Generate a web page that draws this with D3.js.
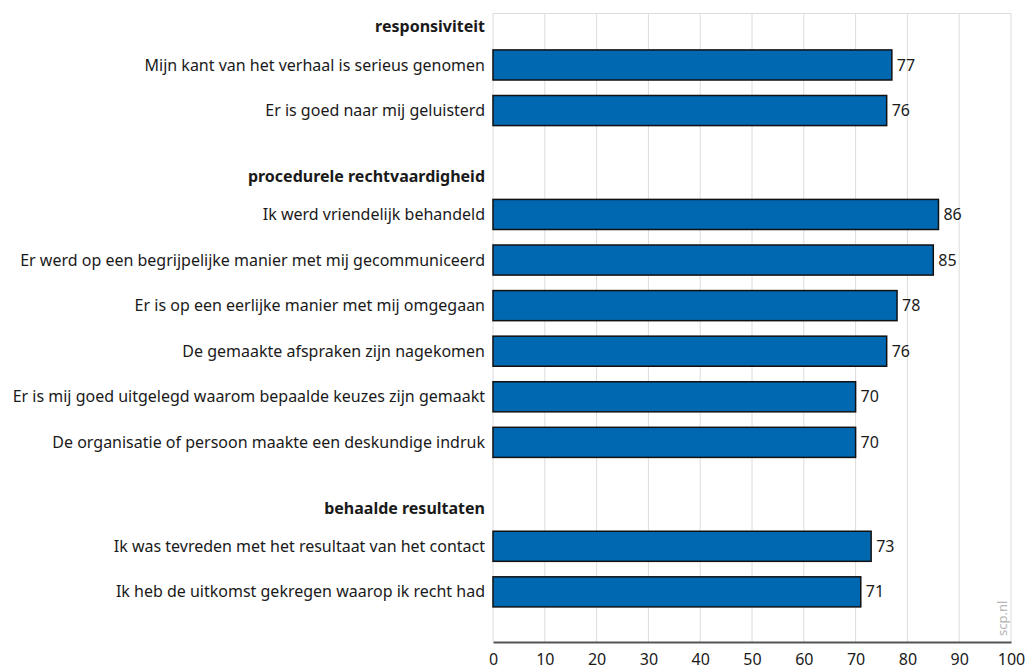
<!DOCTYPE html>
<html>
<head>
<meta charset="utf-8">
<script src="https://cdn.jsdelivr.net/npm/d3@7"></script>
<style>
  body { margin: 0; background: #fff; }
  text { font-family: "Noto Sans", "Open Sans", sans-serif; fill: #1a1a1a; }
</style>
</head>
<body>
<div id="chart"></div>
<script>
// data
var groups = ["responsiviteit", "procedurele rechtvaardigheid", "behaalde resultaten"]
var items = [
  "Mijn kant van het verhaal is serieus genomen",
  "Er is goed naar mij geluisterd",
  "Ik werd vriendelijk behandeld",
  "Er werd op een begrijpelijke manier met mij gecommuniceerd",
  "Er is op een eerlijke manier met mij omgegaan",
  "De gemaakte afspraken zijn nagekomen",
  "Er is mij goed uitgelegd waarom bepaalde keuzes zijn gemaakt",
  "De organisatie of persoon maakte een deskundige indruk",
  "Ik was tevreden met het resultaat van het contact",
  "Ik heb de uitkomst gekregen waarop ik recht had"
]
var itemGroup = [0, 0, 1, 1, 1, 1, 1, 1, 2, 2]
var values = [77, 76, 86, 85, 78, 76, 70, 70, 73, 71]
var xTicks = [0, 10, 20, 30, 40, 50, 60, 70, 80, 90, 100]

var W = 1025, H = 672
// note: "top" is taken by window.top, so plot edges get a prefix
var plotL = 493, plotR = 1011, plotT = 13, plotB = 642
var groupGap = 1.28   // extra rows between groups
var fs = '16px'

// slot index for every item, groups pushed apart
var slots = items.map(function(d, i) { return i + itemGroup[i] * groupGap })
var firstSlot = groups.map(function(g, gi) {
  return d3.min(slots.filter(function(s, i) { return itemGroup[i] === gi }))
})

var svg = d3.select('#chart').append('svg')
  .attr('width', W).attr('height', H)

var x = d3.scaleLinear().domain([0, 100]).range([plotL, plotR])
var y = d3.scaleLinear().domain([-1.14, d3.max(slots) + 1.1]).range([plotT, plotB])
var step = y(1) - y(0)
var barH = step * 0.66

// grid
svg.append('g').selectAll('line')
  .data(xTicks)
  .join('line')
  .attr('x1', function(d) { return x(d) }).attr('x2', function(d) { return x(d) })
  .attr('y1', plotT).attr('y2', plotB)
  .attr('stroke', '#dcdcdc').attr('stroke-width', 1)
svg.append('line')
  .attr('x1', plotL).attr('x2', plotR).attr('y1', plotT + 0.5).attr('y2', plotT + 0.5)
  .attr('stroke', '#dcdcdc')

// x axis
var xAxis = svg.append('g')
  .attr('transform', 'translate(0,' + plotB + ')')
  .call(d3.axisBottom(x).tickValues(xTicks).tickSize(0).tickPadding(12))
xAxis.select('.domain').attr('stroke', '#555').attr('stroke-width', 2)
xAxis.selectAll('text').style('font-size', fs)
  .style('font-family', '"Noto Sans", sans-serif').attr('fill', '#1a1a1a')

// bars
svg.append('g').selectAll('rect')
  .data(values)
  .join('rect')
  .attr('x', x(0))
  .attr('y', function(d, i) { return y(slots[i]) - barH / 2 })
  .attr('width', function(d) { return x(d) - x(0) })
  .attr('height', barH)
  .attr('fill', '#0067b1')
  .attr('stroke', '#111')
  .attr('stroke-width', 1.5)

// value labels
svg.append('g').selectAll('text')
  .data(values)
  .join('text')
  .attr('x', function(d) { return x(d) + 5 })
  .attr('y', function(d, i) { return y(slots[i]) })
  .attr('dy', '0.35em')
  .style('font-size', fs)
  .text(function(d) { return d })

// item labels
svg.append('g').selectAll('text')
  .data(items)
  .join('text')
  .attr('x', plotL - 8)
  .attr('y', function(d, i) { return y(slots[i]) })
  .attr('dy', '0.35em')
  .attr('text-anchor', 'end')
  .style('font-size', fs)
  .text(function(d) { return d })

// group headers
svg.append('g').selectAll('text')
  .data(groups)
  .join('text')
  .attr('x', plotL - 8)
  .attr('y', function(d, i) { return y(firstSlot[i] - 0.84) })
  .attr('dy', '0.35em')
  .attr('text-anchor', 'end')
  .style('font-size', fs)
  .style('font-weight', 'bold')
  .text(function(d) { return d })

// watermark
svg.append('text')
  .attr('transform', 'translate(' + (plotR - 4) + ',' + (plotB - 6) + ') rotate(-90)')
  .style('font-size', '13px')
  .style('fill', '#b5b5b5')
  .text('scp.nl')
</script>
</body>
</html>
